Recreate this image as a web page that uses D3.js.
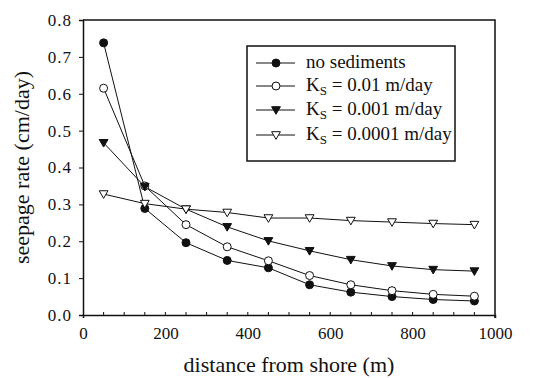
<!DOCTYPE html>
<meta charset="utf-8">
<style>
body { margin: 0; background: #fff; }
svg text { font-family: "Liberation Serif", "Times New Roman", Times, serif; fill: #111; }
.axis path, .axis line { stroke: #111; }
</style>
<svg width="542" height="378"></svg>
<script src="https://cdn.jsdelivr.net/npm/d3@7"></script>
<script>

var distance = [50, 150, 250, 350, 450, 550, 650, 750, 850, 950];
var noSediments = [0.738, 0.289, 0.196, 0.148, 0.128, 0.082, 0.062, 0.050, 0.042, 0.038];
var ks001 = [0.615, 0.350, 0.245, 0.185, 0.147, 0.107, 0.082, 0.066, 0.056, 0.051];
var ks0001 = [0.467, 0.348, 0.287, 0.239, 0.201, 0.174, 0.150, 0.133, 0.123, 0.119];
var ks00001 = [0.328, 0.302, 0.287, 0.278, 0.263, 0.263, 0.256, 0.252, 0.248, 0.245];
var xTicks = [0, 200, 400, 600, 800, 1000];
var yTicks = [0, 0.1, 0.2, 0.3, 0.4, 0.5, 0.6, 0.7, 0.8];

var series = [
  {label: "no sediments", sub: null, values: noSediments, shape: "circle", fill: "#111"},
  {label: "K", sub: "S", rest: " = 0.01 m/day", values: ks001, shape: "circle", fill: "#fff"},
  {label: "K", sub: "S", rest: " = 0.001 m/day", values: ks0001, shape: "tri", fill: "#111"},
  {label: "K", sub: "S", rest: " = 0.0001 m/day", values: ks00001, shape: "tri", fill: "#fff"}
];

var serif = "'Liberation Serif', 'Times New Roman', serif";

var svg = d3.select("svg"),
    mLeft = 83, mRight = 495, mTop = 20, mBottom = 315;

var x = d3.scaleLinear().domain([0, 1000]).range([mLeft, mRight]);
var y = d3.scaleLinear().domain([0, 0.8]).range([mBottom, mTop]);

// frame
svg.append("path")
    .attr("d", "M" + mLeft + "," + mTop + "H" + mRight + "V" + (mBottom + 3))
    .attr("fill", "none").attr("stroke", "#111").attr("stroke-width", 1.5);

var yAxis = svg.append("g").attr("class", "axis")
    .attr("transform", "translate(" + mLeft + ",0)")
    .call(d3.axisLeft(y).tickValues(yTicks).tickSize(4).tickPadding(7).tickFormat(d3.format(".1f")));
yAxis.attr("font-family", serif).attr("font-size", 17);
yAxis.selectAll("text").attr("letter-spacing", 1);
yAxis.select(".domain").attr("stroke-width", 1.5);

var xAxis = svg.append("g").attr("class", "axis")
    .attr("transform", "translate(0," + mBottom + ")")
    .call(d3.axisBottom(x).tickValues(xTicks).tickSize(3).tickPadding(9).tickFormat(d3.format("d")));
xAxis.attr("font-family", serif).attr("font-size", 17);
xAxis.select(".domain").attr("stroke-width", 1.5);
xAxis.selectAll(".tick line").attr("y2", 0);

// minor ticks every 50, pointing inward
svg.append("g").selectAll("line")
    .data(d3.range(50, 1000, 50))
    .enter().append("line")
    .attr("x1", function(d) { return x(d); }).attr("x2", function(d) { return x(d); })
    .attr("y1", mBottom).attr("y2", mBottom - 3)
    .attr("stroke", "#111");

var line = d3.line()
    .x(function(d, i) { return x(distance[i]); })
    .y(function(d) { return y(d); });

function drawMarker(g, shape, fill) {
  if (shape === "circle") {
    g.append("circle").attr("r", 4).attr("fill", fill).attr("stroke", "#111").attr("stroke-width", 1);
  } else {
    g.append("path").attr("d", "M-4.4,-3.3L4.4,-3.3L0,4.3Z")
      .attr("fill", fill).attr("stroke", "#111").attr("stroke-width", 1);
  }
}

series.forEach(function(s) {
  svg.append("path").datum(s.values)
      .attr("d", line).attr("fill", "none").attr("stroke", "#111").attr("stroke-width", 1);
});
series.forEach(function(s) {
  svg.append("g").selectAll("g")
      .data(s.values)
      .enter().append("g")
      .attr("transform", function(d, i) { return "translate(" + x(distance[i]) + "," + y(d) + ")"; })
      .each(function() { drawMarker(d3.select(this), s.shape, s.fill); });
});

// legend
var legend = svg.append("g").attr("transform", "translate(247,46)");
legend.append("rect").attr("width", 208).attr("height", 115)
    .attr("fill", "#fff").attr("stroke", "#111").attr("stroke-width", 1.5);

var rowY = [17, 40, 64, 89];
series.forEach(function(s, i) {
  var row = legend.append("g").attr("transform", "translate(0," + rowY[i] + ")");
  row.append("line").attr("x1", 9).attr("x2", 48).attr("stroke", "#111").attr("stroke-width", 1);
  var m = row.append("g").attr("transform", "translate(29,0)");
  drawMarker(m, s.shape, s.fill);
  var t = row.append("text").attr("x", 59).attr("y", 5)
      .style("font-family", serif).style("font-size", "19px");
  t.append("tspan").text(s.label);
  if (s.sub) {
    t.append("tspan").attr("dy", 4).style("font-size", "13px").text(s.sub);
    t.append("tspan").attr("dy", -4).text(s.rest);
  }
});

// axis titles
svg.append("text")
    .attr("x", (mLeft + mRight) / 2).attr("y", 372)
    .attr("text-anchor", "middle")
    .style("font-family", serif).style("font-size", "22px")
    .text("distance from shore (m)");

svg.append("text")
    .attr("transform", "translate(29," + ((mTop + mBottom) / 2) + ") rotate(-90)")
    .attr("text-anchor", "middle")
    .style("font-family", serif).style("font-size", "22px")
    .text("seepage rate (cm/day)");

</script>
